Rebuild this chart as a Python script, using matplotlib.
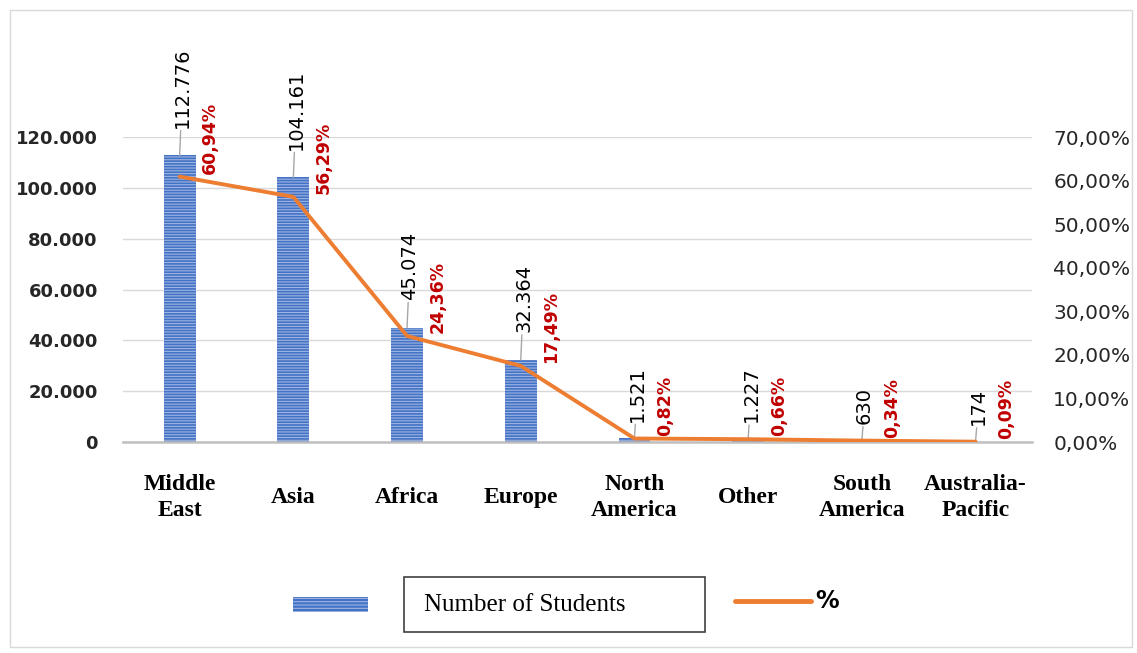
import numpy as np
import matplotlib
matplotlib.use("Agg")
import matplotlib.pyplot as plt
from matplotlib.patches import Rectangle
from matplotlib.lines import Line2D
from matplotlib.ticker import FuncFormatter

# data
regions = ["Middle\nEast", "Asia", "Africa", "Europe", "North\nAmerica",
           "Other", "South\nAmerica", "Australia-\nPacific"]
students = [112776, 104161, 45074, 32364, 1521, 1227, 630, 174]
percent = [60.94, 56.29, 24.36, 17.49, 0.82, 0.66, 0.34, 0.09]

left_ticks = [0, 20000, 40000, 60000, 80000, 100000, 120000]
right_ticks = [0, 10, 20, 30, 40, 50, 60, 70]

BLUE = "#4472C4"
STRIPE = "#9DB5E3"
ORANGE = "#ED7D31"
RED = "#C00000"


def dotted(v):
    # 112776 -> 112.776
    return f"{v:,}".replace(",", ".")


def pct(v):
    return f"{v:.2f}%".replace(".", ",")


def main():
    plt.rcParams["hatch.linewidth"] = 0.8
    fig = plt.figure(figsize=(11.37, 6.53), dpi=100)
    ax = fig.add_axes([0.108, 0.323, 0.800, 0.467])
    ax2 = ax.twinx()

    x = np.arange(len(regions))

    # bars with horizontal stripes like the excel fill
    ax.bar(x, students, width=0.28, color=BLUE, edgecolor=STRIPE,
           hatch="------", linewidth=0, zorder=2)
    ax.set_ylim(0, 120000)
    ax.set_xlim(-0.5, len(regions) - 0.5)
    ax.set_yticks(left_ticks)
    ax.yaxis.set_major_formatter(FuncFormatter(lambda v, p: dotted(int(v))))
    ax.grid(axis="y", color="#D9D9D9", linewidth=1, zorder=0)
    ax.set_axisbelow(True)

    ax.set_xticks(x)
    ax.set_xticklabels(regions, fontfamily="Liberation Serif",
                       fontweight="bold", fontsize=17, va="center",
                       linespacing=1.3)
    ax.tick_params(axis="x", length=0, pad=40)
    ax.tick_params(axis="y", length=0, pad=18, labelsize=13)
    for lab in ax.get_yticklabels():
        lab.set_fontweight("bold")
        lab.set_color("#262626")

    for s in ["top", "right", "left"]:
        ax.spines[s].set_visible(False)
        ax2.spines[s].set_visible(False)
    ax.spines["bottom"].set_color("#BFBFBF")
    ax.spines["bottom"].set_linewidth(1.8)
    ax2.spines["bottom"].set_visible(False)

    # line on the second axis
    ax2.plot(x, percent, color=ORANGE, linewidth=2.8, zorder=3,
             solid_capstyle="round")
    ax2.set_ylim(0, 70)
    ax2.set_yticks(right_ticks)
    ax2.yaxis.set_major_formatter(FuncFormatter(lambda v, p: pct(v)))
    ax2.tick_params(axis="y", length=0, pad=15, labelsize=14.5)
    for lab in ax2.get_yticklabels():
        lab.set_color("#262626")

    # data labels
    for i, v in enumerate(students):
        off = 20 if v > 10000 else 12
        ax.annotate(dotted(v), (x[i], v), xytext=(2, off),
                    textcoords="offset points", rotation=90,
                    ha="center", va="bottom", fontsize=14,
                    color="black", annotation_clip=False,
                    arrowprops=dict(arrowstyle="-", color="#A6A6A6",
                                    lw=1, shrinkA=0, shrinkB=0))
    for i, p in enumerate(percent):
        ax2.annotate(pct(p), (x[i], p), xytext=(22, 2),
                     textcoords="offset points", rotation=90,
                     ha="center", va="bottom", fontsize=12.5,
                     fontweight="bold", color=RED, annotation_clip=False)

    # legend drawn by hand in figure pixels
    H = 653.0
    W = 1137.0
    fig.patches.append(Rectangle((293 / W, 1 - 612 / H), 75 / W, 15 / H,
                                 transform=fig.transFigure,
                                 facecolor=BLUE, edgecolor=STRIPE,
                                 hatch="-----", linewidth=0))
    fig.patches.append(Rectangle((404 / W, 1 - 632 / H), 301 / W, 55 / H,
                                 transform=fig.transFigure,
                                 facecolor="none", edgecolor="#404040",
                                 linewidth=1.2))
    fig.text(424 / W, 1 - 605 / H, "Number of Students", fontsize=18,
             fontfamily="Liberation Serif", va="center", ha="left")
    fig.lines.append(Line2D([735 / W, 811 / W], [1 - 601 / H, 1 - 601 / H],
                            transform=fig.transFigure, color=ORANGE,
                            linewidth=3.5, solid_capstyle="round"))
    fig.text(815 / W, 1 - 601 / H, "%", fontsize=17, fontweight="bold",
             va="center", ha="left")

    # chart area border
    fig.patches.append(Rectangle((10 / W, 6 / H), 1122 / W, 637 / H,
                                 transform=fig.transFigure,
                                 facecolor="none", edgecolor="#D9D9D9",
                                 linewidth=1))

    fig.savefig("out.png", dpi=100)


if __name__ == "__main__":
    main()
